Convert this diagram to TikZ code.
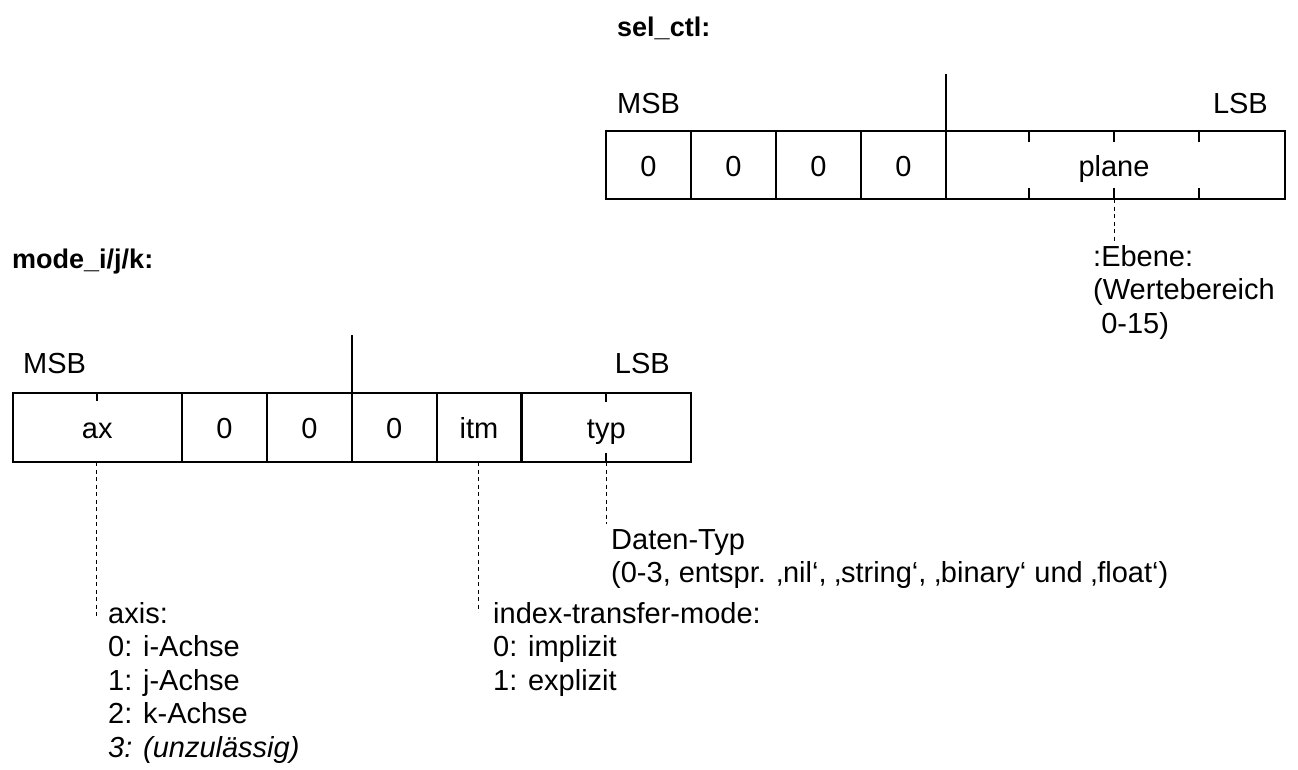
\documentclass[tikz,border=0pt]{standalone}
\usepackage{fontspec}
\setmainfont{Liberation Sans}
\newcommand{\lines}[1]{\begin{tabular}[t]{@{}l@{}}#1\end{tabular}}
\begin{document}
\begin{tikzpicture}[x=1pt,y=-1pt,
  reg/.style={line width=2.2pt},
  tickmark/.style={line width=2pt},
  leader/.style={line width=1pt, dash pattern=on 4pt off 3.5pt},
  txt/.style={inner sep=0pt, font=\fontsize{29}{33.6}\selectfont},
  cell/.style={txt, anchor=base},
  lbl/.style={txt, anchor=base west},
  title/.style={inner sep=0pt, anchor=base west, font=\fontsize{27}{32}\selectfont\bfseries},
]
\useasboundingbox (0,0) rectangle (1298,769);

% ---------- sel_ctl register ----------
\node[title] (selname) at (617,36) {sel\_ctl:};
\draw[reg] (606,131) rectangle (1285,199);
\foreach \x in {691,776,861,946} \draw[reg] (\x,131) -- (\x,199);
\draw[reg] (946,74) -- (946,131);
\foreach \x in {1029,1114,1199} {
  \draw[tickmark] (\x,131) -- (\x,142);
  \draw[tickmark] (\x,199) -- (\x,188);
}
\node[lbl] (selmsb) at (617,113) {MSB};
\node[txt, anchor=base east] (sellsb) at (1268,113) {LSB};
\node[cell] (s7) at (648.5,176.5) {0};
\node[cell] (s6) at (733.5,176.5) {0};
\node[cell] (s5) at (818.5,176.5) {0};
\node[cell] (s4) at (903.5,176.5) {0};
\node[cell] (plane) at (1114,176.5) {plane};

\coordinate (planefoot) at (1114,199);
\coordinate (ebenetop) at (1114,241);
\draw[leader] (planefoot) -- (ebenetop);
\node[lbl] (ebene) at (1093,266) {\lines{:Ebene:\\(Wertebereich\\\ 0-15)}};

% ---------- mode_i/j/k register ----------
\node[title] (modename) at (12,268) {mode\_i/j/k:};
\draw[reg] (12.7,393) rectangle (691,462);
\foreach \x in {182,267,352,436.7,521.5} \draw[reg] (\x,393) -- (\x,462);
\draw[reg] (352,335) -- (352,393);
\draw[tickmark] (96.5,393) -- (96.5,401);
\draw[tickmark] (606.3,393) -- (606.3,402);
\draw[tickmark] (606.3,462) -- (606.3,453);
\node[lbl] (modemsb) at (23,373) {MSB};
\node[txt, anchor=base east] (modelsb) at (670,373) {LSB};
\node[cell] (ax)  at (97.3,438) {ax};
\node[cell] (m5)  at (224.5,438) {0};
\node[cell] (m4)  at (309.5,438) {0};
\node[cell] (m3)  at (394.3,438) {0};
\node[cell] (itm) at (479,438) {itm};
\node[cell] (typ) at (606.3,438) {typ};

% leaders to the field descriptions
\coordinate (axfoot)  at (96.5,462);
\coordinate (axend)   at (96.5,617);
\coordinate (itmfoot) at (478,462);
\coordinate (itmend)  at (478,612);
\coordinate (typfoot) at (606.3,462);
\coordinate (typend)  at (606.3,524);
\draw[leader] (axfoot) -- (axend);
\draw[leader] (itmfoot) -- (itmend);
\draw[leader] (typfoot) -- (typend);

\node[lbl] (typdesc) at (611,549)
  {\lines{Daten-Typ\\(0-3, entspr. ‚nil‘, ‚string‘, ‚binary‘ und ‚float‘)}};
\node[lbl] (axdesc) at (108,623)
  {\lines{axis:\\0: i-Achse\\1: j-Achse\\2: k-Achse\\\textit{3: (unzulässig)}}};
\node[lbl] (itmdesc) at (493,623)
  {\lines{index-transfer-mode:\\0: implizit\\1: explizit}};
\end{tikzpicture}
\end{document}
